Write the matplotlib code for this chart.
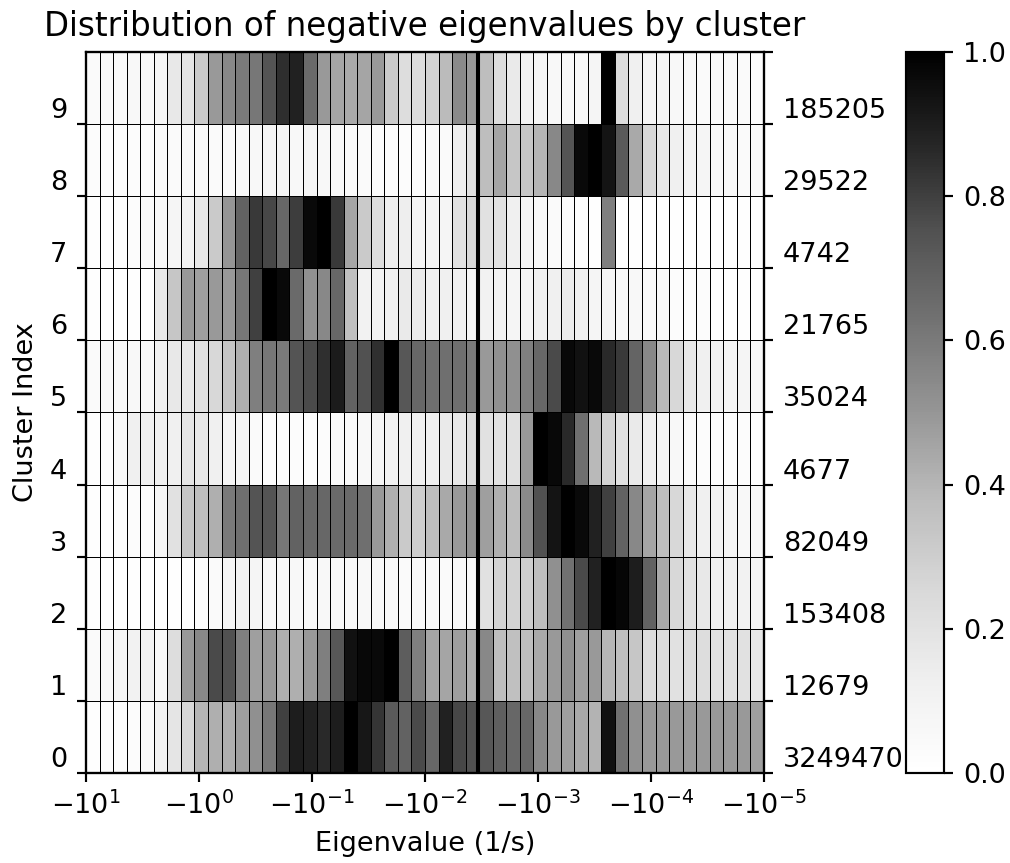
import numpy as np
import matplotlib
matplotlib.use("Agg")
import matplotlib.pyplot as plt

# ---------------- data (normalised histogram per cluster, 50 log bins) ----------------
n_bins = 50
bin_lo, bin_hi = 1, -5          # log10(|eigenvalue|) range of the bins
threshold = -0.0034            # vertical reference line (1/s)

clusters = [0, 1, 2, 3, 4, 5, 6, 7, 8, 9]
counts = [3249470, 12679, 153408, 82049, 4677, 35024, 21765, 4742, 29522, 185205]

c0 = [.01, .025, .025, .025, .04, .11, .185, .255, .40, .42, .42, .47, .52, .61, .80, .90, .89, .86, .90, 1.0,
      .92, .83, .72, .69, .77, .67, .89, .78, .75, .73, .70, .67, .67, .55, .49, .47, .44, .41, .94, .63,
      .52, .49, .49, .49, .49, .49, .49, .49, .49, .47]
c1 = [.04, .06, .085, .11, .11, .06, .23, .49, .55, .77, .75, .58, .47, .49, .42, .42, .49, .58, .73, .94,
      .97, .965, 1.0, .71, .58, .45, .45, .47, .42, .55, .37, .36, .37, .44, .49, .52, .47, .49, .40, .37,
      .335, .23, .23, .21, .23, .23, .21, .21, .21, .17]
c2 = [.01, .01, .01, .01, .01, .01, .01, .01, .025, .04, .085, .11, .085, .06, .06, .06, .06, .06, .06, .06,
      .06, .06, .06, .04, .04, .04, .04, .06, .06, .21, .28, .28, .30, .37, .52, .63, .77, .89, 1.0, .98,
      .90, .69, .44, .255, .21, .17, .125, .125, .11, .085]
c3 = [.01, .01, .025, .025, .025, .085, .21, .335, .37, .42, .60, .64, .74, .74, .61, .69, .67, .67, .66, .66,
      .64, .49, .42, .32, .30, .37, .44, .49, .52, .47, .42, .37, .54, .75, .93, 1.0, .965, .89, .80, .69,
      .55, .45, .37, .255, .17, .125, .11, .085, .06, .06]
c4 = [.01, .025, .06, .125, .125, .125, .125, .185, .17, .125, .085, .085, .04, .025, .025, .025, .025, .025, .04, .04,
      .06, .085, .11, .125, .125, .125, .16, .17, .23, .21, .21, .21, .49, 1.0, .97, .86, .64, .39, .28, .21,
      .16, .125, .085, .06, .04, .025, .025, .025, .025, .01]
c5 = [.04, .06, .06, .06, .06, .125, .17, .17, .21, .255, .335, .42, .58, .61, .60, .74, .77, .845, .91, .69,
      .75, .845, 1.0, .73, .67, .64, .64, .64, .60, .49, .52, .52, .58, .67, .77, .97, .94, .965, .86, .82,
      .68, .55, .39, .255, .17, .125, .11, .085, .085, .06]
c6 = [.01, .01, .01, .01, .01, .17, .335, .49, .47, .49, .49, .61, .80, 1.0, .965, .66, .52, .55, .67, .36,
      .11, .11, .125, .16, .16, .125, .125, .125, .085, .11, .11, .085, .085, .125, .125, .15, .125, .085, .085, .06,
      .06, .04, .04, .025, .025, .025, .01, .01, .01, .01]
c7 = [.01, .01, .02, .025, .04, .06, .085, .11, .17, .32, .50, .69, .82, .78, .67, .805, .965, 1.0, .82, .45,
      .32, .23, .14, .14, .085, .085, .085, .21, .255, .21, .21, .125, .085, .06, .04, .025, .02, .01, .58, .01,
      .01, .01, .01, .01, .01, .01, .01, .01, .01, .01]
c8 = [.025, .025, .025, .025, .025, .04, .04, .04, .04, .04, .04, .06, .06, .085, .085, .06, .085, .06, .06, .04,
      .04, .025, .025, .025, .025, .04, .04, .14, .21, .37, .45, .335, .335, .40, .55, .74, .965, 1.0, .93, .72,
      .44, .255, .17, .125, .10, .085, .06, .06, .04, .04]
c9 = [.04, .04, .04, .06, .06, .085, .17, .19, .32, .49, .55, .60, .61, .74, .85, .89, .66, .49, .45, .44,
      .45, .49, .32, .23, .23, .28, .38, .54, .49, .37, .23, .16, .11, .085, .06, .06, .06, .085, 1.0, .23,
      .125, .085, .085, .06, .06, .04, .04, .04, .04, .025]

density = np.array([c0, c1, c2, c3, c4, c5, c6, c7, c8, c9])
x_edges = -np.logspace(bin_lo, bin_hi, n_bins + 1)
y_edges = np.arange(len(clusters) + 1)

# ---------------- figure ----------------
DPI = 195
W, H = 1010, 863
fig = plt.figure(figsize=(W / DPI, H / DPI), dpi=DPI)
ax = fig.add_axes([86 / W, 90 / H, 678 / W, 721 / H])

mesh = ax.pcolormesh(x_edges, y_edges, density, cmap="Greys", vmin=0, vmax=1,
                     edgecolors="k", linewidth=0.3)
ax.set_xscale("symlog", linthresh=1e-6)
ax.set_xlim(-10, -1e-5)
ax.set_ylim(0, len(clusters))
ax.axvline(threshold, color="k", lw=1.5)

ax.set_yticks(range(len(clusters)))
ax.set_yticklabels([str(c) for c in clusters], va="bottom")
ax.set_xlabel("Eigenvalue (1/s)")
ax.set_ylabel("Cluster Index")
ax.set_title("Distribution of negative eigenvalues by cluster", fontsize=12)

ax2 = ax.twinx()
ax2.set_ylim(0, len(clusters))
ax2.set_yticks(range(len(clusters) + 1))
ax2.set_yticklabels([str(n) for n in counts] + [""], va="bottom")

cax = fig.add_axes([906 / W, 90 / H, 38 / W, 721 / H])
cb = fig.colorbar(mesh, cax=cax, ticks=[0, 0.2, 0.4, 0.6, 0.8, 1.0])

fig.savefig("out.png", dpi=DPI)
